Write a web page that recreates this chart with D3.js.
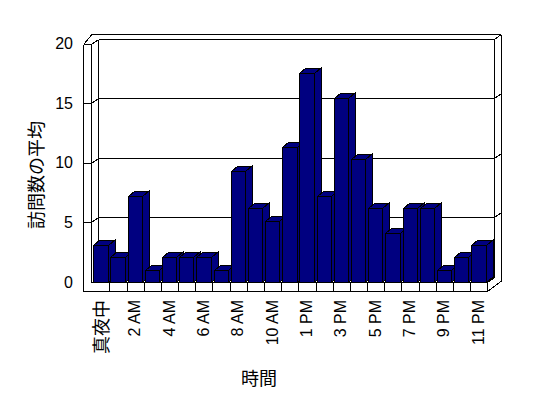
<!DOCTYPE html>
<html>
<head>
<meta charset="utf-8">
<script src="https://cdn.jsdelivr.net/npm/d3@7"></script>
<style>
  html, body { margin: 0; padding: 0; background: #fff; }
  svg { display: block; }
</style>
</head>
<body>
<svg id="chart" width="548" height="398"></svg>
<script>
const categories = ["真夜中","1 AM","2 AM","3 AM","4 AM","5 AM","6 AM","7 AM","8 AM","9 AM","10 AM","11 AM",
                    "1 PM","2 PM","3 PM","4 PM","5 PM","6 PM","7 PM","8 PM","9 PM","10 PM","11 PM"];
const values = [3,2,7,1,2,2,2,1,9,6,5,11,17,7,15,10,6,4,6,6,1,2,3];
const yTicks = [0,5,10,15,20];
const xTitle = "時間";
const yTitle = "訪問数の平均";

const svg = d3.select("#chart");
const W = 548, H = 398;
svg.append("rect").attr("width", W).attr("height", H).attr("fill", "#fff");

// geometry
const axisX = 83.5, wallInX = 91.5, backL = 98.5, backR = 494.5, outerR = 501;
const floorTop = 282, floorBot = 291;
const dxB = 6.5, dyB = -5.5;

const x = d3.scaleBand().domain(categories).range([92.2, 487.3]).padding(0);
const yFront = d3.scaleLinear().domain([0, 20]).range([282, 43.5]);
const yBack = d3.scaleLinear().domain([0, 20]).range([276.5, 38.5]);
const yBar = d3.scaleLinear().domain([0, 20]).range([282, 36.4]);

const g = svg.append("g").attr("stroke", "#000").attr("stroke-width", 1)
  .attr("fill", "none").attr("shape-rendering", "crispEdges");

function line(x1, y1, x2, y2) {
  g.append("line").attr("x1", x1).attr("y1", y1).attr("x2", x2).attr("y2", y2);
}
const r = v => Math.round(v) + 0.5;

// back wall outline
const top20f = r(yFront(20)), top20b = r(yBack(20));
line(axisX, top20f, wallInX, top20f);
line(axisX, top20f, 92, 34.5);
line(92, 34.5, outerR, 34.5);
line(wallInX, top20f, backL, top20b);
line(backL, top20b, backR, top20b);
line(backL, top20b, backL, r(yBack(0)));
line(backR, top20b, backR, r(yBack(0)));
line(backR, top20b, outerR, 34.5);
line(outerR, 34.5, outerR, 281.5);

// left axis & wall front face
line(axisX, top20f, axisX, floorBot + 0.5);
line(wallInX, top20f, wallInX, floorTop + 0.5);

// gridlines
yTicks.filter(v => v > 0 && v < 20).forEach(v => {
  const yf = r(yFront(v)), yb = r(yBack(v));
  line(axisX, yf, wallInX, yf);
  line(wallInX, yf, backL, yb);
  line(backL, yb, backR, yb);
  line(backR, yb, outerR, yb - 4.5);
});

// floor
const floorEnd = x.range()[1];
line(wallInX, floorTop + 0.5, r(floorEnd), floorTop + 0.5);
line(axisX, floorBot + 0.5, r(floorEnd), floorBot + 0.5);
line(r(floorEnd), floorTop + 0.5, r(floorEnd), floorBot + 0.5);
line(r(floorEnd), floorTop + 0.5, backR, r(yBack(0)));
line(r(floorEnd), floorBot + 0.5, outerR, 281.5);
line(backL, r(yBack(0)), backR, r(yBack(0)));
categories.slice(1).forEach(c => {
  line(r(x(c)), floorTop + 0.5, r(x(c)), floorBot + 0.5);
});

// bars
const bars = svg.append("g").attr("fill", "#000080").attr("stroke", "#000")
  .attr("stroke-width", 1).attr("shape-rendering", "crispEdges");
categories.forEach((c, i) => {
  const x0 = r(x(c) + 1.1), x1 = r(x(c) + 15.4);
  const yt = r(yBar(values[i])), y0 = floorTop + 0.5;
  bars.append("polygon").attr("points",
    [[x0, yt], [x1, yt], [x1 + dxB, yt + dyB], [x0 + dxB, yt + dyB]].map(p => p.join(",")).join(" "));
  bars.append("polygon").attr("points",
    [[x1, yt], [x1 + dxB, yt + dyB], [x1 + dxB, y0 + dyB], [x1, y0]].map(p => p.join(",")).join(" "));
  bars.append("rect").attr("x", x0).attr("y", yt).attr("width", x1 - x0).attr("height", y0 - yt);
});

// y tick labels
svg.append("g").selectAll("text").data(yTicks).join("text")
  .attr("x", 73).attr("y", d => yFront(d))
  .attr("text-anchor", "end").attr("dominant-baseline", "central")
  .attr("font-family", "'Liberation Sans', Arial, sans-serif").attr("font-size", 16)
  .attr("fill", "#000").text(d => d);

// x tick labels (every other category)
svg.append("g").selectAll("text").data(categories.filter((c, i) => i % 2 === 0)).join("text")
  .attr("transform", d => `translate(${x(d) + x.bandwidth() / 2 - 0.5},300) rotate(-90)`)
  .attr("text-anchor", "end").attr("dominant-baseline", "central")
  .attr("font-family", d => /[^\x00-\x7f]/.test(d) ? "'Noto Sans CJK JP', sans-serif" : "'Liberation Sans', Arial, sans-serif")
  .attr("font-size", d => /[^\x00-\x7f]/.test(d) ? 18 : 16)
  .attr("fill", "#000").text(d => d);

// titles
svg.append("text").attr("x", 259).attr("y", 377)
  .attr("text-anchor", "middle").attr("dominant-baseline", "central")
  .attr("font-family", "'Noto Sans CJK JP', sans-serif").attr("font-size", 18)
  .attr("fill", "#000").text(xTitle);
svg.append("text").attr("transform", "translate(35,175) rotate(-90)")
  .attr("text-anchor", "middle").attr("dominant-baseline", "central")
  .attr("font-family", "'Noto Sans CJK JP', sans-serif").attr("font-size", 18)
  .attr("fill", "#000").text(yTitle);
</script>
</body>
</html>
